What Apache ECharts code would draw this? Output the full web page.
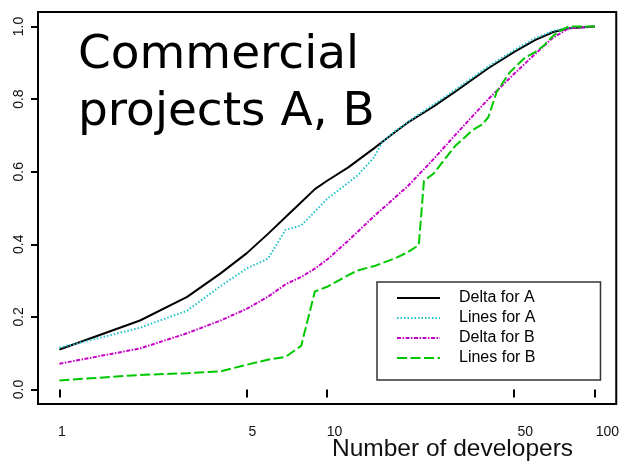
<!DOCTYPE html>
<html>
<head>
<meta charset="utf-8">
<script src="https://cdn.jsdelivr.net/npm/echarts@6/dist/echarts.min.js"></script>
<style>
  html, body { margin: 0; padding: 0; background: #fff; }
  #chart { width: 622px; height: 464px; }
</style>
</head>
<body>
<div id="chart"></div>
<script>
// developers (x) and cumulative share (y) for each curve
var devDeltaA = [1, 2, 3, 4, 5, 6, 7, 8, 9, 10, 12, 15, 18, 20, 25, 30, 40, 50, 60, 70, 80, 100];
var deltaA = [0.11, 0.19, 0.255, 0.32, 0.375, 0.428, 0.475, 0.516, 0.552, 0.575, 0.612, 0.665, 0.71, 0.735, 0.78, 0.82, 0.885, 0.93, 0.963, 0.985, 0.995, 1.0];

var devLinesA = [1, 2, 3, 4, 5, 6, 7, 8, 9, 10, 12, 13, 15, 16, 18, 20, 25, 30, 40, 50, 60, 70, 80, 100];
var linesA = [0.115, 0.17, 0.217, 0.285, 0.333, 0.36, 0.44, 0.452, 0.49, 0.525, 0.57, 0.59, 0.64, 0.68, 0.712, 0.737, 0.785, 0.825, 0.89, 0.935, 0.968, 0.988, 0.997, 1.0];

var devDeltaB = [1, 2, 3, 4, 5, 6, 7, 8, 9, 10, 12, 15, 20, 25, 30, 40, 50, 60, 70, 80, 100];
var deltaB = [0.071, 0.113, 0.155, 0.19, 0.222, 0.255, 0.29, 0.31, 0.333, 0.358, 0.41, 0.478, 0.56, 0.635, 0.7, 0.8, 0.87, 0.925, 0.97, 0.995, 1.0];

var devLinesB = [1, 2, 3, 4, 5, 6, 7, 8, 9, 10, 12, 13, 15, 18, 20, 22, 23, 25, 30, 35, 38, 40, 43, 48, 55, 60, 65, 70, 75, 80, 100];
var linesB = [0.025, 0.04, 0.045, 0.05, 0.068, 0.082, 0.09, 0.12, 0.27, 0.283, 0.315, 0.328, 0.34, 0.362, 0.378, 0.398, 0.575, 0.595, 0.67, 0.715, 0.73, 0.75, 0.82, 0.873, 0.915, 0.93, 0.95, 0.975, 0.99, 1.0, 1.0];

var xTicks = [1, 5, 10, 50, 100];
var yTicks = [0, 0.2, 0.4, 0.6, 0.8, 1.0];

function pairs(xs, ys) {
    var out = [];
    for (var i = 0; i < xs.length; i++) out.push([xs[i], ys[i]]);
    return out;
}

var myChart = echarts.init(document.getElementById('chart'), null, { renderer: 'canvas' });

var option = {
    animation: false,
    backgroundColor: '#fff',
    title: {
        text: 'Commercial\nprojects A, B',
        left: 73,
        top: 22,
        textStyle: {
            fontFamily: 'DejaVu Sans',
            fontSize: 47,
            lineHeight: 57,
            fontWeight: 'normal',
            color: '#000'
        }
    },
    grid: {
        left: 38, top: 12, width: 583, height: 392,
        show: true, borderColor: '#000', borderWidth: 2,
        backgroundColor: 'transparent'
    },
    legend: {
        orient: 'vertical',
        left: 377,
        top: 282,
        padding: [8, 65, 14, 19],
        itemWidth: 43,
        itemHeight: 14,
        itemGap: 4,
        borderColor: '#333',
        borderWidth: 1.5,
        itemStyle: { color: 'rgba(0,0,0,0)', borderWidth: 0 },
        textStyle: {
            fontFamily: 'Liberation Sans',
            fontSize: 16,
            lineHeight: 15,
            color: '#000',
            padding: [0, 0, 0, 14]
        },
        data: ['Delta for A', 'Lines for A', 'Delta for B', 'Lines for B']
    },
    xAxis: [
        {
            type: 'log', logBase: 10,
            min: Math.pow(10, -0.08), max: Math.pow(10, 2.08),
            gridIndex: 0, position: 'bottom',
            axisLine: { show: false },
            axisTick: { show: true, customValues: xTicks, length: 8, lineStyle: { color: '#000', width: 2 } },
            axisLabel: { show: false },
            splitLine: { show: false },
            minorTick: { show: false }
        },
        {
            // tick labels sit on a slightly wider scale in the reference
            type: 'log', logBase: 10,
            min: Math.pow(10, -0.0873), max: Math.pow(10, 2.0327),
            gridIndex: 0, position: 'bottom',
            axisLine: { show: false },
            axisTick: { show: false },
            axisLabel: {
                show: true, customValues: xTicks, margin: 21,
                fontFamily: 'Liberation Sans', fontSize: 14, color: '#111',
                formatter: function (v) { return String(Math.round(v)); }
            },
            splitLine: { show: false }
        }
    ],
    yAxis: {
        type: 'value',
        min: -0.04, max: 1.04,
        axisLine: { show: false },
        axisTick: { show: true, customValues: yTicks, length: 7, lineStyle: { color: '#000', width: 2 } },
        axisLabel: {
            customValues: yTicks, rotate: 90, margin: 12,
            fontFamily: 'Liberation Sans', fontSize: 14, color: '#111',
            formatter: function (v) { return v.toFixed(1); }
        },
        splitLine: { show: false }
    },
    graphic: [{
        type: 'text',
        style: {
            text: 'Number of developers',
            x: 332, y: 449,
            verticalAlign: 'middle',
            font: '24.5px "Liberation Sans"',
            fill: '#111'
        }
    }],
    series: [
        {
            name: 'Delta for A', type: 'line', xAxisIndex: 0,
            data: pairs(devDeltaA, deltaA), symbol: 'none',
            lineStyle: { color: '#000', width: 2, type: 'solid' },
            itemStyle: { color: '#000' }
        },
        {
            name: 'Lines for A', type: 'line', xAxisIndex: 0,
            data: pairs(devLinesA, linesA), symbol: 'none',
            lineStyle: { color: '#20c4cc', width: 2, type: [1.5, 2] },
            itemStyle: { color: '#20c4cc' }
        },
        {
            name: 'Delta for B', type: 'line', xAxisIndex: 0,
            data: pairs(devDeltaB, deltaB), symbol: 'none',
            lineStyle: { color: '#c800c8', width: 2, type: [4, 1.5, 1.5, 1.5] },
            itemStyle: { color: '#c800c8' }
        },
        {
            name: 'Lines for B', type: 'line', xAxisIndex: 0,
            data: pairs(devLinesB, linesB), symbol: 'none',
            lineStyle: { color: '#00c800', width: 2, type: [10, 3.5] },
            itemStyle: { color: '#00c800' }
        }
    ]
};

myChart.setOption(option);
</script>
</body>
</html>
